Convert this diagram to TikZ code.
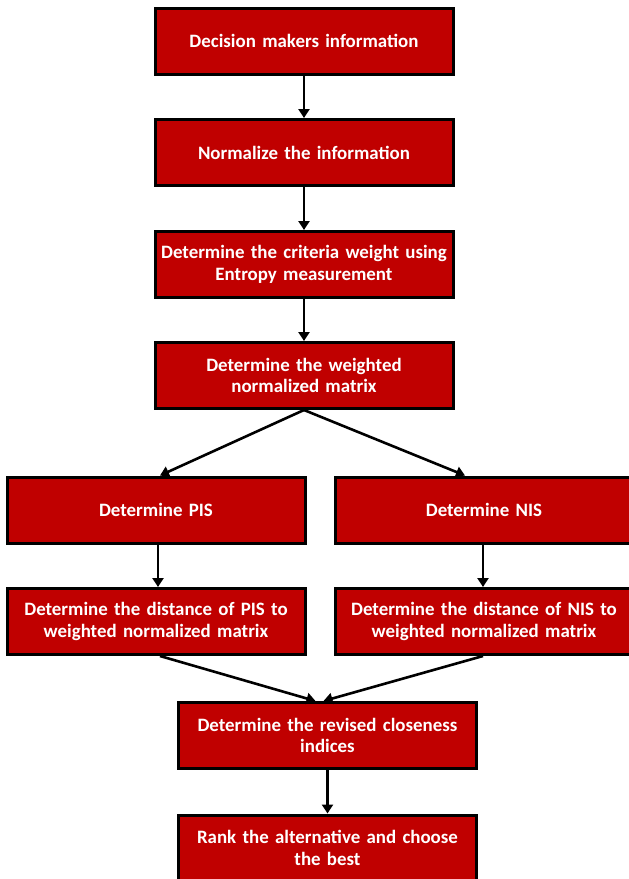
\documentclass[tikz,border=0pt]{standalone}
\usepackage{fontspec}
\setmainfont{Carlito}
\usetikzlibrary{arrows.meta}
\definecolor{boxred}{HTML}{C00000}
\tikzset{
  x=1pt, y=-1pt,
  flowbox/.style={draw=black, line width=3pt, fill=boxred, text=white,
    font=\bfseries\fontsize{18.9}{21.5}\selectfont, align=center,
    minimum width=298pt, minimum height=66pt, inner sep=0pt, text width=296pt},
  flowarrow/.style={draw=black, line width=2.6pt, -{Triangle[length=9pt,width=11pt]}}
}
\begin{document}
\begin{tikzpicture}
\useasboundingbox (0,0) rectangle (629,879);
\clip (0,0) rectangle (629,879);
\node[flowbox] (b1) at (304,41) {Decision makers information};
\node[flowbox] (b2) at (304,152.5) {Normalize the information};
\node[flowbox] (b3) at (304,264.5) {Determine the criteria weight using\\Entropy measurement};
\node[flowbox] (b4) at (304,375.5) {Determine the weighted\\normalized matrix};
\node[flowbox] (pis) at (156,510) {Determine PIS};
\node[flowbox] (nis) at (484,510) {Determine NIS};
\node[flowbox] (pisd) at (156,621.5) {Determine the distance of PIS to\\weighted normalized matrix};
\node[flowbox] (nisd) at (484,621.5) {Determine the distance of NIS to\\weighted normalized matrix};
\node[flowbox] (rev) at (327.5,735.5) {Determine the revised closeness\\indices};
\node[flowbox] (rank) at (327.5,848) {Rank the alternative and choose\\the best};
\draw[flowarrow] (b1) -- (b2);
\draw[flowarrow] (b2) -- (b3);
\draw[flowarrow] (b3) -- (b4);
\draw[flowarrow] (b4.south) -- ([xshift=4pt]pis.north);
\draw[flowarrow] (b4.south) -- ([xshift=-19pt]nis.north);
\draw[flowarrow] ([xshift=2pt]pis.south) -- ([xshift=2pt]pisd.north);
\draw[flowarrow] ([xshift=-1pt]nis.south) -- ([xshift=-1pt]nisd.north);
\draw[flowarrow] ([xshift=4pt]pisd.south) -- ([xshift=-12pt]rev.north);
\draw[flowarrow] ([xshift=-1pt]nisd.south) -- ([xshift=-4pt]rev.north);
\draw[flowarrow] (rev) -- (rank);
\end{tikzpicture}
\end{document}
